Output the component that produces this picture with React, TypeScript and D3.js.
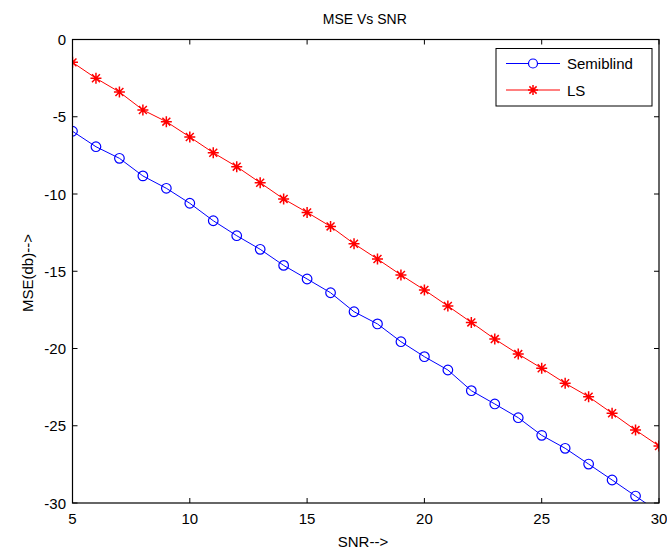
import React from "react"
import * as d3 from "d3"

const snr = [5, 6, 7, 8, 9, 10, 11, 12, 13, 14, 15, 16, 17, 18, 19, 20, 21, 22, 23, 24, 25, 26, 27, 28, 29, 30]
const semiblind = [-5.94, -6.94, -7.69, -8.83, -9.63, -10.6, -11.73, -12.7, -13.58, -14.62, -15.5, -16.39, -17.62, -18.41, -19.56, -20.53, -21.39, -22.73, -23.59, -24.48, -25.62, -26.46, -27.48, -28.51, -29.55, -30.6]
const ls = [-1.48, -2.51, -3.4, -4.56, -5.32, -6.31, -7.33, -8.23, -9.27, -10.32, -11.19, -12.1, -13.22, -14.21, -15.24, -16.21, -17.25, -18.31, -19.39, -20.36, -21.28, -22.25, -23.12, -24.19, -25.28, -26.31]
const xTicks = [5, 10, 15, 20, 25, 30]
const yTicks = [0, -5, -10, -15, -20, -25, -30]

const W = 667, H = 551
const m = { left: 72.5, right: 659, top: 39.5, bottom: 503 }
const font = "'Liberation Sans', Arial, sans-serif"

function star(cx: number, cy: number, r: number) {
  const d = r * 0.72
  return `M${cx - r},${cy}L${cx + r},${cy}M${cx},${cy - r}L${cx},${cy + r}` +
    `M${cx - d},${cy - d}L${cx + d},${cy + d}M${cx - d},${cy + d}L${cx + d},${cy - d}`
}

export default function App() {
  const x = d3.scaleLinear().domain([5, 30]).range([m.left, m.right])
  const y = d3.scaleLinear().domain([-30, 0]).range([m.bottom, m.top])

  const line = d3.line<number>()
    .x((d, i) => x(snr[i]))
    .y(d => y(d))

  const tl = 5

  return (
    <svg width={W} height={H} style={{ position: "absolute", left: 0, top: 0, background: "#fff" }}
      fontFamily={font}>
      <defs>
        <clipPath id="plot">
          <rect x={m.left} y={m.top} width={m.right - m.left} height={m.bottom - m.top} />
        </clipPath>
      </defs>

      <text x={(m.left + m.right) / 2 - 1} y={24} textAnchor="middle" fontSize={14}>MSE Vs SNR</text>

      <g clipPath="url(#plot)">
        <path d={line(semiblind) || ""} fill="none" stroke="#0000ff" strokeWidth={1} />
        {semiblind.map((v, i) => (
          <circle key={i} cx={x(snr[i])} cy={y(v)} r={4.8} fill="none" stroke="#0000ff" strokeWidth={1.2} />
        ))}
        <path d={line(ls) || ""} fill="none" stroke="#ff0000" strokeWidth={1} />
        {ls.map((v, i) => (
          <path key={i} d={star(x(snr[i]), y(v), 5.5)} stroke="#ff0000" strokeWidth={1.5} fill="none" />
        ))}
      </g>

      {/* box */}
      <rect x={m.left} y={m.top} width={m.right - m.left} height={m.bottom - m.top}
        fill="none" stroke="#000" strokeWidth={1.2} />

      {xTicks.map(t => (
        <g key={t}>
          <line x1={x(t)} x2={x(t)} y1={m.bottom} y2={m.bottom - tl} stroke="#000" />
          <line x1={x(t)} x2={x(t)} y1={m.top} y2={m.top + tl} stroke="#000" />
          <text x={x(t)} y={524} textAnchor="middle" fontSize={15} fill="#000">{t}</text>
        </g>
      ))}
      {yTicks.map(t => (
        <g key={t}>
          <line x1={m.left} x2={m.left + tl} y1={y(t)} y2={y(t)} stroke="#000" />
          <line x1={m.right} x2={m.right - tl} y1={y(t)} y2={y(t)} stroke="#000" />
          <text x={66} y={y(t) + 5.5} textAnchor="end" fontSize={15} fill="#000">{t}</text>
        </g>
      ))}

      <text x={363} y={547} textAnchor="middle" fontSize={15}>SNR--&gt;</text>
      <text transform={`translate(33,273) rotate(-90)`} textAnchor="middle" fontSize={15}>MSE(db)--&gt;</text>

      {/* legend */}
      <g>
        <rect x={496} y={48.5} width={156} height={57.5} fill="#fff" stroke="#000" strokeWidth={1} />
        <line x1={506} x2={560} y1={63.5} y2={63.5} stroke="#0000ff" />
        <circle cx={533} cy={63.5} r={4.5} fill="#fff" stroke="#0000ff" strokeWidth={1.2} />
        <text x={567} y={69} fontSize={15}>Semiblind</text>
        <line x1={506} x2={560} y1={90} y2={90} stroke="#ff0000" />
        <path d={star(533, 90, 5)} stroke="#ff0000" strokeWidth={1.5} fill="none" />
        <text x={567} y={95.5} fontSize={15}>LS</text>
      </g>
    </svg>
  )
}
